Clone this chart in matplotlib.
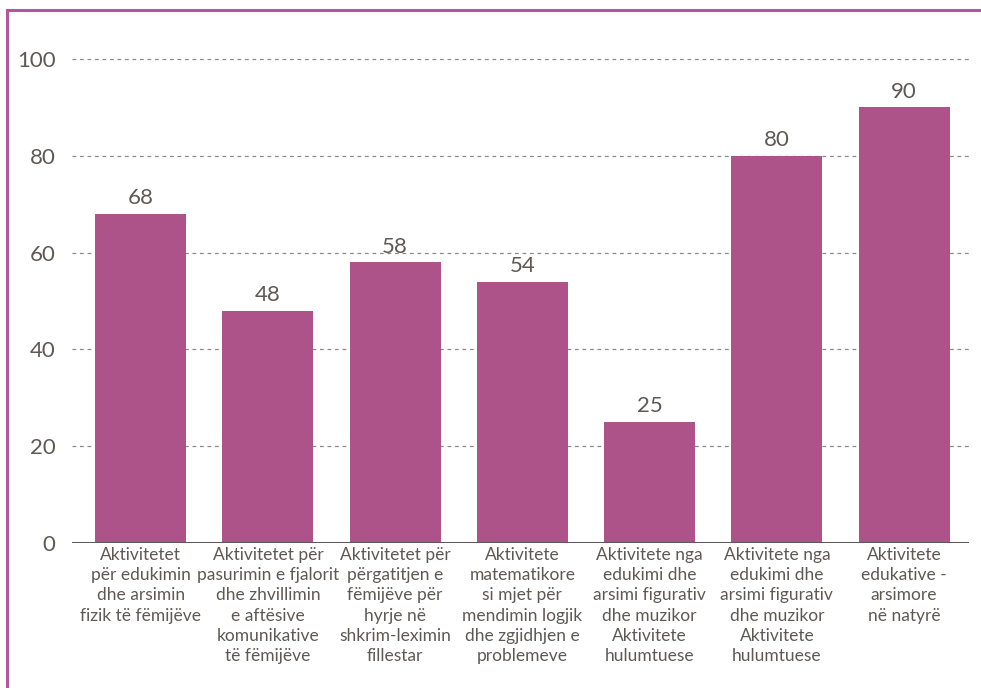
import matplotlib
matplotlib.use("Agg")
import matplotlib.pyplot as plt
from matplotlib.lines import Line2D

categories = [
    "Aktivitetet\npër edukimin\ndhe arsimin\nfizik të fëmijëve",
    "Aktivitetet për\npasurimin e fjalorit\ndhe zhvillimin\ne aftësive\nkomunikative\ntë fëmijëve",
    "Aktivitetet për\npërgatitjen e\nfëmijëve për\nhyrje në\nshkrim-leximin\nfillestar",
    "Aktivitete\nmatematikore\nsi mjet për\nmendimin logjik\ndhe zgjidhjen e\nproblemeve",
    "Aktivitete nga\nedukimi dhe\narsimi figurativ\ndhe muzikor\nAktivitete\nhulumtuese",
    "Aktivitete nga\nedukimi dhe\narsimi figurativ\ndhe muzikor\nAktivitete\nhulumtuese",
    "Aktivitete\nedukative -\narsimore\nnë natyrë",
]
values = [68, 48, 58, 54, 25, 80, 90]
yticks = [0, 20, 40, 60, 80, 100]

plt.rcParams['font.family'] = ['Lato', 'DejaVu Sans']
text_color = '#5e5955'
bar_color = '#ad5389'
frame_color = '#b4589a'

fig = plt.figure(figsize=(9.81, 6.88), dpi=100)
ax = fig.add_axes([72/981, 145/688, (969-72)/981, (102*4.84)/688])

x = list(range(len(values)))
ax.bar(x, values, width=0.715, color=bar_color, zorder=3)
ax.set_xlim(-0.54, 6.51)
ax.set_ylim(0, 102)

for yv in yticks[1:]:
    ax.axhline(yv, color='#8a8a8a', lw=0.9, ls=(0, (3, 3)), zorder=1)
ax.axhline(0, color='#5e5a55', lw=2.2, zorder=4)

ax.set_yticks(yticks)
ax.set_yticklabels([str(v) for v in yticks], fontsize=16, color=text_color)
ax.set_xticks(x)
ax.set_xticklabels(categories, fontsize=12.5, color=text_color, linespacing=1.32, va='top')
ax.tick_params(axis='both', length=0)
ax.tick_params(axis='y', pad=12)
ax.tick_params(axis='x', pad=3)
for s in ax.spines.values():
    s.set_visible(False)

for xi, v in zip(x, values):
    ax.annotate(str(v), (xi, v), xytext=(0, 4), textcoords='offset points',
                ha='center', va='bottom', fontsize=16, color=text_color)

# figure frame (top and left edges visible)
fig.add_artist(Line2D([7/981, 1.0], [1 - 10/688, 1 - 10/688], color=frame_color, lw=2.2, transform=fig.transFigure))
fig.add_artist(Line2D([7/981, 7/981], [0, 1 - 10/688], color=frame_color, lw=2.2, transform=fig.transFigure))

fig.savefig("out.png", dpi=100)
